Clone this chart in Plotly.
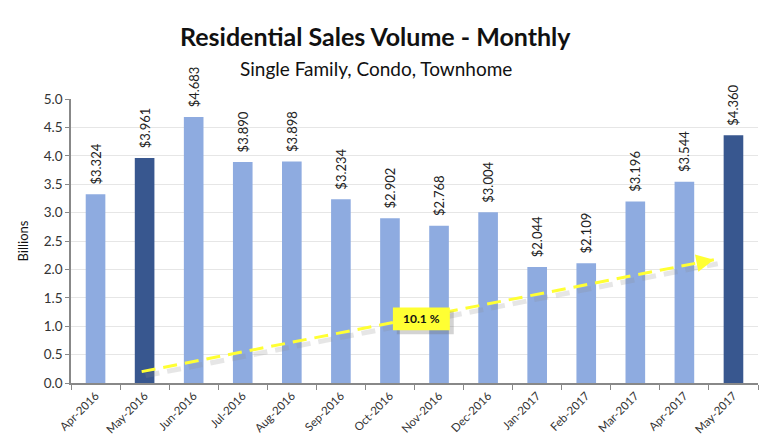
import plotly.graph_objects as go

months = ["Apr-2016", "May-2016", "Jun-2016", "Jul-2016", "Aug-2016", "Sep-2016", "Oct-2016",
          "Nov-2016", "Dec-2016", "Jan-2017", "Feb-2017", "Mar-2017", "Apr-2017", "May-2017"]
volume = [3.324, 3.961, 4.683, 3.890, 3.898, 3.234, 2.902, 2.768, 3.004, 2.044, 2.109, 3.196, 3.544, 4.360]
highlight = ["May-2016", "May-2017"]
trend_label = "10.1 %"
trend_x = [0.94, 12.6]
trend_y = [0.20, 2.17]
label_x = 6.64
label_y = 1.13

LIGHT = "#8EABE0"
DARK = "#38578F"
YEL = "#FFFF33"
colors = [DARK if m in highlight else LIGHT for m in months]
FONT = "Lato"

fig = go.Figure()
fig.add_trace(go.Bar(
    x=months, y=volume, marker=dict(color=colors, line=dict(width=0)),
    width=0.4,
    texttemplate="\u00a0\u00a0$%{y:.3f}", textposition="outside", textangle=-90,
    textfont=dict(family=FONT, size=13, color="#222222"),
    constraintext="none", cliponaxis=False, showlegend=False,
))

# trend arrow (on an overlaid numeric axis) with soft shadow
fig.add_trace(go.Scatter(
    x=[trend_x[0] + 0.08, trend_x[1] + 0.08], y=[trend_y[0] - 0.07, trend_y[1] - 0.07],
    xaxis="x2", mode="lines", line=dict(color="rgba(140,140,140,0.22)", width=5, dash="14px,8px"),
    hoverinfo="skip", showlegend=False,
))
fig.add_trace(go.Scatter(
    x=trend_x, y=trend_y, xaxis="x2",
    mode="lines", line=dict(color=YEL, width=3, dash="14px,8px"),
    hoverinfo="skip", showlegend=False,
))
dx = trend_x[1] - trend_x[0]
dy = trend_y[1] - trend_y[0]
fig.add_annotation(
    x=trend_x[1], y=trend_y[1], ax=trend_x[1] - dx * 0.03, ay=trend_y[1] - dy * 0.03,
    xref="x2", yref="y", axref="x2", ayref="y", text="", showarrow=True,
    arrowhead=2, arrowsize=1.4, arrowwidth=2.5, arrowcolor=YEL,
)

# label box with shadow
fig.add_shape(type="rect", xref="x2", yref="y",
              x0=label_x - 0.58 + 0.08, x1=label_x + 0.58 + 0.08,
              y0=label_y - 0.2 - 0.07, y1=label_y + 0.2 - 0.07,
              fillcolor="rgba(110,110,110,0.30)", line=dict(width=0), layer="above")
fig.add_shape(type="rect", xref="x2", yref="y",
              x0=label_x - 0.58, x1=label_x + 0.58,
              y0=label_y - 0.2, y1=label_y + 0.2,
              fillcolor=YEL, line=dict(width=0), layer="above")
fig.add_annotation(
    x=label_x, y=label_y, xref="x2", yref="y", text="<b>" + trend_label + "</b>", showarrow=False,
    font=dict(family=FONT, size=12, color="#111111"),
)

# titles
fig.add_annotation(
    text="<b>Residential Sales Volume - Monthly</b>", xref="paper", yref="paper",
    x=(375 - 71) / 687, y=1 + (99 - 36) / 284, xanchor="center", yanchor="middle",
    showarrow=False, font=dict(family=FONT, size=25, color="#111111"),
)
fig.add_annotation(
    text="Single Family, Condo, Townhome", xref="paper", yref="paper",
    x=(376 - 71) / 687, y=1 + (99 - 68) / 284, xanchor="center", yanchor="middle",
    showarrow=False, font=dict(family=FONT, size=19, color="#111111"),
)

fig.update_layout(
    width=768, height=447,
    margin=dict(l=71, r=10, t=99, b=64),
    paper_bgcolor="white", plot_bgcolor="white",
    font=dict(family=FONT, color="#333333"),
    xaxis2=dict(overlaying="x", range=[-0.5, 13.5], visible=False, fixedrange=True),
    xaxis=dict(
        type="category", tickson="boundaries", ticks="outside", ticklen=5, tickcolor="#888888",
        showline=True, linecolor="#888888", linewidth=1.5, tickangle=-45,
        tickfont=dict(family=FONT, size=11.5, color="#333333"), showgrid=False,
    ),
)
fig.update_yaxes(
    range=[0, 5], dtick=0.5, tickformat=".1f", ticks="outside", ticklen=4, tickcolor="#888888",
    showline=True, linecolor="#888888", linewidth=1.5, showgrid=True, gridcolor="#E6E6E6",
    tickfont=dict(family=FONT, size=13.5, color="#333333"),
    title=dict(text="Billions", font=dict(family=FONT, size=13, color="#111111"), standoff=12),
    zeroline=False,
)

fig.write_html("out.html")
